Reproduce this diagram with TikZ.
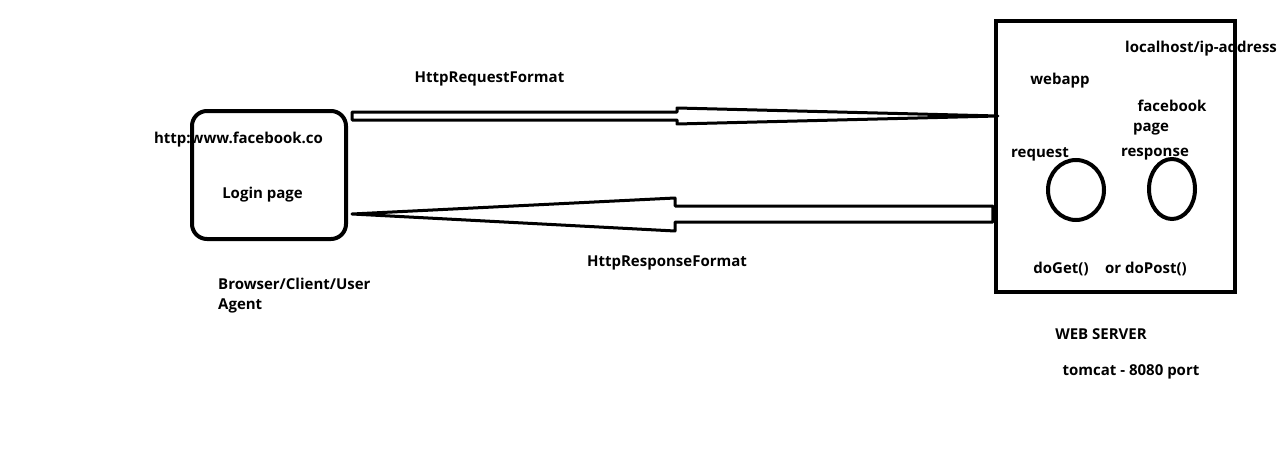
\documentclass[tikz,border=0pt]{standalone}
\usepackage{fontspec}
\setmainfont{Open Sans}
\usetikzlibrary{calc,shapes.geometric}
\begin{document}
\begin{tikzpicture}[x=1pt,y=-1pt,
		lbl/.style={font=\fontsize{15}{18}\selectfont\bfseries,inner sep=0pt},
		box/.style={draw,line width=4pt,minimum width=#1,inner sep=0pt},
		oval/.style={draw,ellipse,line width=4pt,inner sep=0pt},
		blk/.style={draw,line width=3pt,line join=round}
		]
	\useasboundingbox (0,0) rectangle (1283,460);
	\node [box=154pt,minimum height=128pt,rounded corners=15pt] (cl) at (269,175) {};
	\node [minimum width=239pt,minimum height=271pt,inner sep=0pt] (srv) at (1115.5,156.5) {};
	\node [lbl] (url) at (238.5,140) {http:www.facebook.co};
	\node [lbl] (login) at (262.5,195) {Login page};
	\node [lbl,anchor=west] (brw) at (218,284) {Browser/Client/User};
	\node [lbl,anchor=west] (agt) at (218,306) {Agent};
	\node [lbl] (hreq) at (489.5,79) {HttpRequestFormat};
	\node [lbl] (hres) at (667,263) {HttpResponseFormat};
	\node [lbl,anchor=west] (host) at (1125,49) {localhost/ip-address};
	\node [lbl] (wapp) at (1060,81) {webapp};
	\node [lbl] (fb) at (1172,106) {facebook};
	\node [lbl] (pg) at (1151,129) {page};
	\node [lbl] (rq) at (1040,154) {request};
	\node [lbl] (rs) at (1155,154) {response};
	\node [oval,minimum width=56pt,minimum height=60pt] (rqo) at (1076,190) {};
	\node [oval,minimum width=46pt,minimum height=60pt] (rso) at (1172,189) {};
	\node [lbl] (get) at (1061,269) {doGet()};
	\node [lbl] (post) at (1146,269) {or doPost()};
	\node [lbl] (ws) at (1101,334) {WEB SERVER};
	\node [lbl] (tc) at (1131,372) {tomcat - 8080 port};
	\draw [line width=4pt] (srv.north west) rectangle (srv.south east);
	\coordinate (qs) at ($(cl.east)+(4,-59)$);
	\coordinate (qt) at ($(srv.west)+(2,-40.5)$);
	\coordinate (ps) at ($(srv.west)+(-3,57.5)$);
	\coordinate (pt) at ($(cl.east)+(4,39)$);
	\draw [blk] (qs) ++(0,-4) -- ++(325,0) -- ++(0,-4) -- (qt)
		-- ($(qs)+(325,8)$) -- ++(0,-4) -- ($(qs)+(0,4)$) -- cycle;
	\draw [blk] (pt) -- ($(pt)+(323,-16)$) -- ++(0,8) -- ($(ps)+(0,-8)$)
		-- ($(ps)+(0,8)$) -- ($(pt)+(323,8)$) -- ++(0,9) -- cycle;
\end{tikzpicture}
\end{document}
